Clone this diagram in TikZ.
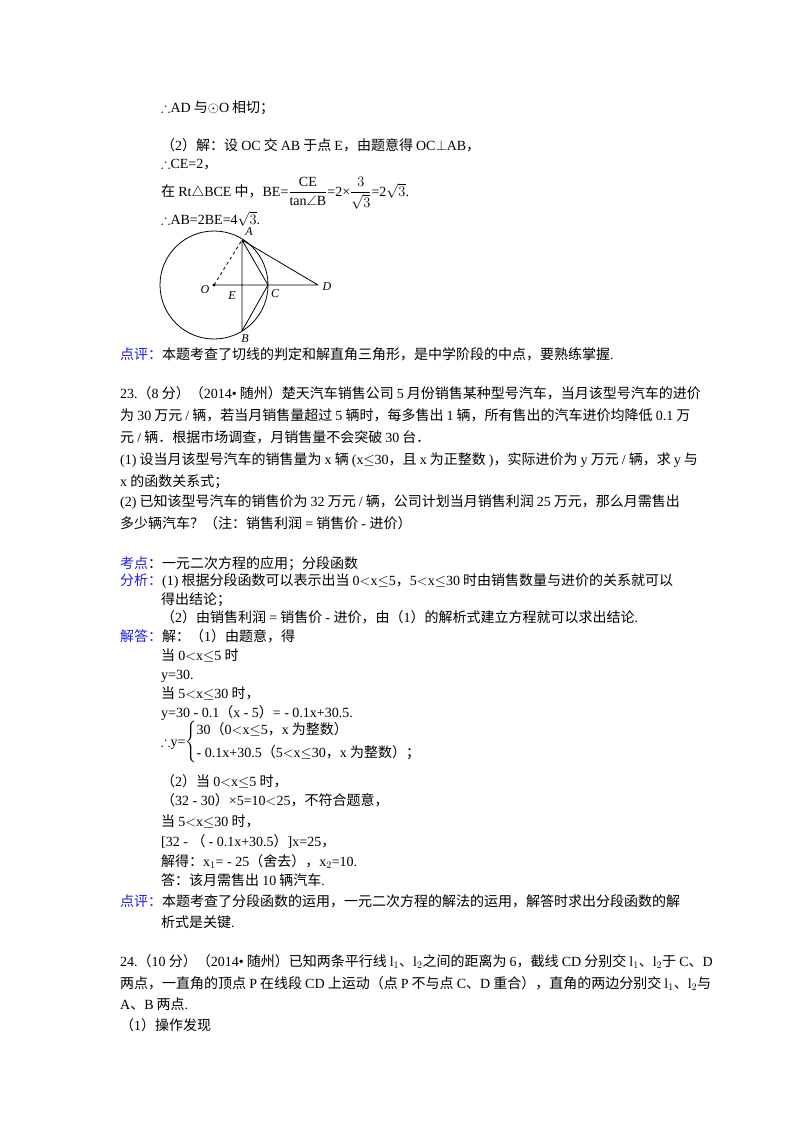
\documentclass[tikz,border=0pt]{standalone}
\usepackage{amsmath,amssymb}
\usepackage{fontspec}
\setmainfont{Liberation Serif}
\newfontfamily\cjkf{Noto Sans CJK SC}
\newcount\cc
\def\setcls#1#2#3{\cc=#1 \loop\XeTeXcharclass\cc=#3 \ifnum\cc<#2 \advance\cc by 1 \repeat}
\setcls{"4E00}{"9FFF}{7}
\setcls{"3000}{"303F}{8}
\setcls{"FF01}{"FF60}{8}
\XeTeXcharclass`.=9
\XeTeXinterchartokenstate=1
\XeTeXinterchartoks 0 7 {\hskip0.22em\cjkf}
\XeTeXinterchartoks 0 8 {\cjkf}
\XeTeXinterchartoks 9 7 {\cjkf}
\XeTeXinterchartoks 9 8 {\cjkf}
\XeTeXinterchartoks 4095 7 {\cjkf}
\XeTeXinterchartoks 4095 8 {\cjkf}
\XeTeXinterchartoks 4095 0 {\normalfont}
\XeTeXinterchartoks 7 0 {\normalfont\hskip0.22em}
\XeTeXinterchartoks 8 0 {\normalfont}
\XeTeXinterchartoks 7 9 {\normalfont}
\XeTeXinterchartoks 8 9 {\normalfont}
\newcommand\nointer{\XeTeXinterchartokenstate=0\relax}
\definecolor{lab}{RGB}{30,30,230}
\tikzset{txt/.style={anchor=base west,inner sep=0pt,font=\fontsize{14pt}{16pt}\selectfont},
 pt/.style={font=\nointer\fontsize{12pt}{14pt}\selectfont\itshape,inner sep=1pt},
 geo/.style={line width=0.8pt}}
\newcommand\T[4]{\node[txt] (#1) at (#2pt,-#3pt) {#4};}
\newcommand\B[1]{\textcolor{lab}{#1}}
\begin{document}
\begin{tikzpicture}
\useasboundingbox (0,0) rectangle (800pt,-1132pt);
\fill[white] (0,0) rectangle (800pt,-1132pt);
\T{a1}{161}{112}{$\therefore$AD与$\odot$O相切；}
\T{a2}{161}{150}{（2）解：设OC交AB于点E，由题意得OC$\perp$AB，}
\T{a3}{161}{168}{$\therefore$CE=2，}
\T{a4}{161}{196}{在Rt$\triangle$BCE中，BE=$\dfrac{\mathrm{CE}}{\mathrm{tan}\angle\mathrm{B}}$=2×$\dfrac{3}{\sqrt{3}}$=2$\sqrt{3}$.}
\T{a5}{161}{224}{$\therefore$AB=2BE=4$\sqrt{3}$.}
% figure
\coordinate (O) at (214pt,-285pt);
\coordinate (A) at (242pt,-240pt);
\coordinate (B) at (242pt,-331pt);
\coordinate (C) at (268pt,-285pt);
\coordinate (D) at (318pt,-285pt);
\coordinate (E) at (242pt,-285pt);
\draw[geo] (O) circle (54pt);
\draw[geo,dashed] (O) -- (A);
\draw[geo] (O) -- (D) (A) -- (B) (A) -- (C) -- (B) (A) -- (D);
\fill (O) circle (1.6pt);
\node[pt] (lA) at (249pt,-232pt) {A};
\node[pt] (lO) at (205pt,-290pt) {O};
\node[pt] (lE) at (232pt,-296pt) {E};
\node[pt] (lC) at (275pt,-294pt) {C};
\node[pt] (lD) at (327pt,-287pt) {D};
\node[pt] (lB) at (245pt,-339pt) {B};
\T{a6}{120}{359}{\B{点评：}本题考查了切线的判定和解直角三角形，是中学阶段的中点，要熟练掌握.}
% 23
\T{b1}{120}{398}{23.（8分）（2014•随州）楚天汽车销售公司5月份销售某种型号汽车，当月该型号汽车的进价}
\T{b2}{120}{420}{为30万元/辆，若当月销售量超过5辆时，每多售出1辆，所有售出的汽车进价均降低0.1万}
\T{b3}{120}{442}{元/辆．根据市场调查，月销售量不会突破30台．}
\T{b4}{120}{464}{(1)设当月该型号汽车的销售量为x辆(x$\leq$30，且x为正整数)，实际进价为y万元/辆，求y与}
\T{b5}{120}{486}{x的函数关系式；}
\T{b6}{120}{506}{(2)已知该型号汽车的销售价为32万元/辆，公司计划当月销售利润25万元，那么月需售出}
\T{b7}{120}{528}{多少辆汽车？（注：销售利润=销售价 - 进价）}
\T{c1}{120}{568}{\B{考点}：一元二次方程的应用；分段函数}
\T{c2}{120}{585}{\B{分析：}(1)根据分段函数可以表示出当0$<$x$\leq$5，5$<$x$\leq$30时由销售数量与进价的关系就可以}
\T{c3}{161}{604}{得出结论；}
\T{c4}{161}{622}{（2）由销售利润=销售价 - 进价，由（1）的解析式建立方程就可以求出结论.}
\T{c5}{120}{641}{\B{解答：}解：（1）由题意，得}
\T{c6}{161}{660}{当0$<$x$\leq$5时}
\T{c7}{161}{679}{y=30.}
\T{c8}{161}{698}{当5$<$x$\leq$30时，}
\T{c9}{161}{717}{y=30 - 0.1（x - 5）= - 0.1x+30.5.}
\T{c10}{161}{746}{$\therefore$y=$\left\{\begin{array}{@{}l@{}}\text{30（0$<$x$\leq$5，x为整数）}\\[6pt]\text{- 0.1x+30.5（5$<$x$\leq$30，x为整数）；}\end{array}\right.$}
\T{c11}{161}{786}{（2）当0$<$x$\leq$5时，}
\T{c12}{161}{805}{（32 - 30）×5=10$<$25，不符合题意，}
\T{c13}{161}{826}{当5$<$x$\leq$30时，}
\T{c14}{161}{846}{[32 - （ - 0.1x+30.5）]x=25，}
\T{c15}{161}{866}{解得：x$_1$= - 25（舍去），x$_2$=10.}
\T{c16}{161}{885}{答：该月需售出10辆汽车.}
\T{c17}{120}{906}{\B{点评：}本题考查了分段函数的运用，一元二次方程的解法的运用，解答时求出分段函数的解}
\T{c18}{161}{927}{析式是关键.}
% 24
\T{d1}{120}{966}{24.（10分）（2014•随州）已知两条平行线l$_1$、l$_2$之间的距离为6，截线CD分别交l$_1$、l$_2$于C、D}
\T{d2}{120}{988}{两点，一直角的顶点P在线段CD上运动（点P不与点C、D重合），直角的两边分别交l$_1$、l$_2$与}
\T{d3}{120}{1009}{A、B两点.}
\T{d4}{120}{1030}{（1）操作发现}
\end{tikzpicture}
\end{document}
